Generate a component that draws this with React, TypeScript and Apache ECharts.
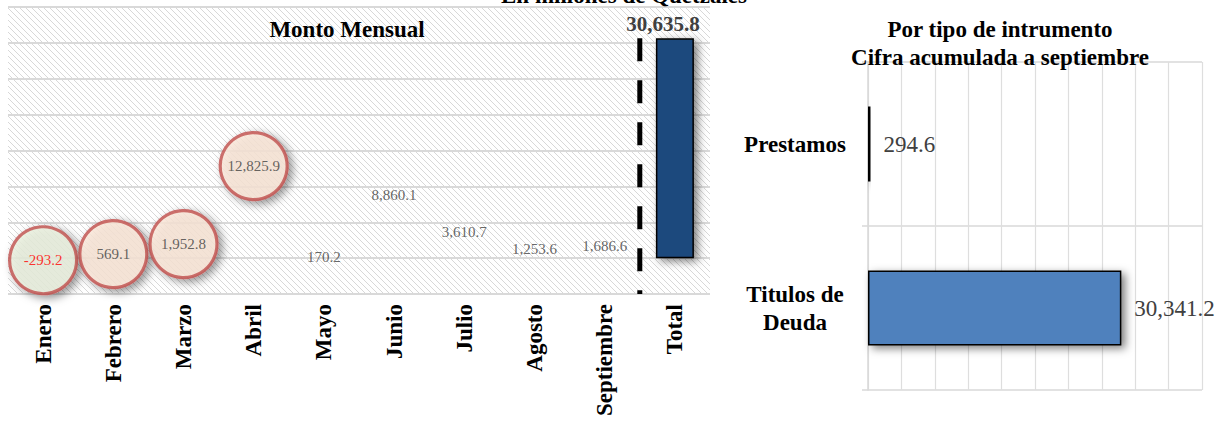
import React, { useEffect, useRef } from "react";
import * as echarts from "echarts";

const categories = ["Enero", "Febrero", "Marzo", "Abril", "Mayo", "Junio", "Julio", "Agosto", "Septiembre", "Total"];
const monthValues = [-293.2, 569.1, 1952.8, 12825.9, 170.2, 8860.1, 3610.7, 1253.6, 1686.6];
const totalValue = 30635.8;
const bubbleMonths = ["Enero", "Febrero", "Marzo", "Abril"];
const monthlyTicks = { min: -5000, max: 35000, interval: 5000 };

const instrumentCategories = ["Prestamos", "Titulos de\nDeuda"];
const instrumentValues = [294.6, 30341.2];
const instrumentTicks = { min: 0, max: 40000, interval: 4000 };

const FONT = "'Liberation Serif', 'Times New Roman', serif";
const fmt = (v: number) => v.toLocaleString("en-US", { minimumFractionDigits: 1, maximumFractionDigits: 1 });

function makeHatch() {
  const s = 6;
  const c = document.createElement("canvas");
  c.width = s;
  c.height = s;
  const ctx = c.getContext("2d")!;
  ctx.fillStyle = "#ffffff";
  ctx.fillRect(0, 0, s, s);
  ctx.strokeStyle = "#d8d8d8";
  ctx.lineWidth = 1;
  ctx.beginPath();
  ctx.moveTo(0, 0);
  ctx.lineTo(s, s);
  ctx.moveTo(-1, s - 1);
  ctx.lineTo(1, s + 1);
  ctx.moveTo(s - 1, -1);
  ctx.lineTo(s + 1, 1);
  ctx.stroke();
  return { image: c, repeat: "repeat", imageWidth: s, imageHeight: s };
}

export default function App() {
  const ref = useRef<HTMLDivElement>(null);
  useEffect(() => {
    if (!ref.current) return;
    const chart = echarts.init(ref.current, undefined, { renderer: "svg" });
    const shadow = { shadowBlur: 9, shadowColor: "rgba(0,0,0,0.5)", shadowOffsetX: 4, shadowOffsetY: 3 };
    const months = categories.slice(0, monthValues.length);
    const monthData = monthValues.map((v, i) => {
      const isBubble = bubbleMonths.includes(months[i]);
      return {
        value: [months[i], v],
        symbolSize: isBubble ? 67 : 1,
        itemStyle: isBubble
          ? { color: v < 0 ? "#EBF1DE" : "#FDE9D9", borderColor: "#C0504D", borderWidth: 3.2, ...shadow }
          : { color: "transparent", borderWidth: 0 },
        label: { color: v < 0 ? "#FF0000" : "#404040" },
      };
    });
    const divider = monthValues.length;

    const option: any = {
      animation: false,
      backgroundColor: "#ffffff",
      textStyle: { fontFamily: FONT },
      title: [
        {
          text: "En millones de Quetzales",
          left: 624, top: -18, textAlign: "center", padding: 0,
          textStyle: { fontFamily: FONT, fontSize: 23, fontWeight: "bold", color: "#000", lineHeight: 26 },
        },
        {
          text: "Monto Mensual",
          left: 347, top: 16.5, textAlign: "center", padding: 0,
          textStyle: { fontFamily: FONT, fontSize: 23, fontWeight: "bold", color: "#000", lineHeight: 26 },
        },
        {
          text: "Por tipo de intrumento\nCifra acumulada a septiembre",
          left: 1000, top: 15.5, textAlign: "center", padding: 0,
          textStyle: { fontFamily: FONT, fontSize: 23, fontWeight: "bold", color: "#000", lineHeight: 28 },
        },
      ],
      grid: [
        { left: 8, right: 516, top: 7, bottom: 129, show: true, backgroundColor: makeHatch(), borderWidth: 0 },
        { left: 868, right: 24, top: 62, bottom: 33 },
      ],
      xAxis: [
        {
          type: "category", gridIndex: 0, data: categories,
          axisLine: { show: false }, axisTick: { show: false },
          axisLabel: { rotate: 90, margin: 10, fontFamily: FONT, fontSize: 23, fontWeight: "bold", color: "#000", interval: 0 },
        },
        { type: "value", gridIndex: 0, min: 0, max: categories.length, show: false },
        {
          type: "value", gridIndex: 1, min: instrumentTicks.min, max: instrumentTicks.max, interval: instrumentTicks.interval,
          axisLabel: { show: false }, axisLine: { show: false }, axisTick: { show: false },
          splitLine: { show: true, lineStyle: { color: "#dedede", width: 1.2 } },
        },
      ],
      yAxis: [
        {
          type: "value", gridIndex: 0, min: monthlyTicks.min, max: monthlyTicks.max, interval: monthlyTicks.interval,
          axisLabel: { show: false }, axisLine: { show: false }, axisTick: { show: false },
          splitLine: { show: true, lineStyle: { color: "#d9d9d9", width: 2 } },
        },
        {
          type: "category", gridIndex: 1, data: instrumentCategories, inverse: true,
          axisLine: { show: true, lineStyle: { color: "#d9d9d9", width: 1.5 } },
          axisTick: { show: true, length: 6, lineStyle: { color: "#d9d9d9", width: 1.5 } },
          splitLine: { show: true, lineStyle: { color: "#d9d9d9", width: 1.5 } },
          axisLabel: { fontFamily: FONT, fontSize: 23, fontWeight: "bold", color: "#000", align: "center", margin: 73, lineHeight: 28 },
        },
      ],
      series: [
        {
          type: "bar", xAxisIndex: 0, yAxisIndex: 0, barWidth: 38,
          data: categories.map((c) => (c === "Total" ? totalValue : "-")),
          itemStyle: { color: "#1F497D", borderColor: "#000", borderWidth: 1.5, ...shadow },
          label: {
            show: true, position: "top", distance: 4, offset: [-12, 0],
            fontFamily: FONT, fontSize: 21, fontWeight: "bold", color: "#404040",
            formatter: (p: any) => fmt(p.value),
          },
          z: 3,
        },
        {
          type: "line", xAxisIndex: 1, yAxisIndex: 0,
          data: [[divider, totalValue], [divider, monthlyTicks.min]],
          symbol: "none", lineStyle: { color: "#000", width: 5, type: [23, 19] }, z: 4,
        },
        {
          type: "scatter", xAxisIndex: 0, yAxisIndex: 0,
          data: monthData,
          label: {
            show: true, position: "inside", fontFamily: FONT, fontSize: 15, color: "#404040",
            formatter: (p: any) => fmt(p.value[1]),
          },
          z: 5,
        },
        {
          type: "bar", xAxisIndex: 2, yAxisIndex: 1, barWidth: 75,
          data: instrumentValues,
          itemStyle: { color: "#4F81BD", borderColor: "#000", borderWidth: 1.5, ...shadow },
          label: {
            show: true, position: "right", distance: 13,
            fontFamily: FONT, fontSize: 23, color: "#404040",
            formatter: (p: any) => fmt(p.value),
          },
        },
      ],
    };
    chart.setOption(option);
    return () => chart.dispose();
  }, []);
  return (
    <div
      ref={ref}
      style={{ position: "fixed", left: 0, top: 0, width: 1226, height: 423, background: "#fff" }}
    />
  );
}
